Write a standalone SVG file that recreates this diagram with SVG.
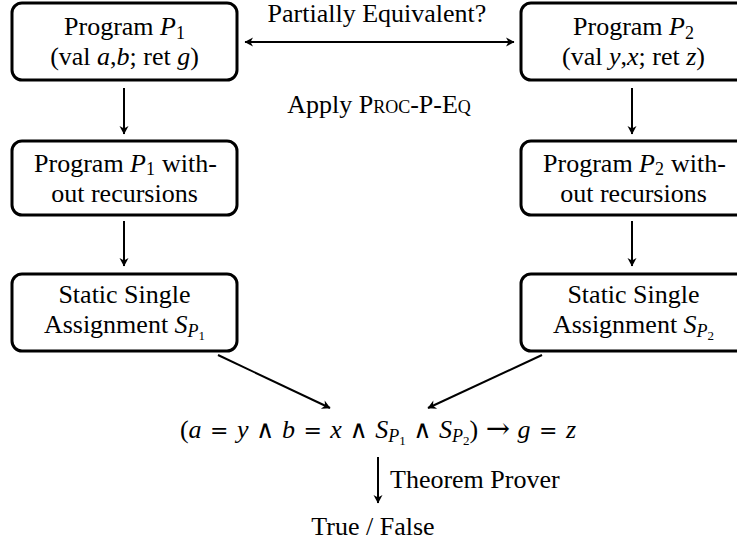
<svg xmlns="http://www.w3.org/2000/svg" width="737" height="548" viewBox="0 0 737 548">
<defs>
<style>
.box{fill:#fff;stroke:#000;stroke-width:3}
text{font-family:"Liberation Serif","Times New Roman",serif;font-size:26px;fill:#000}
.m{text-anchor:middle}
.e{text-anchor:end}
.i{font-style:italic}
.o{font-family:"DejaVu Serif",serif;font-size:22px}
.w{font-family:"DejaVu Serif",serif;font-size:25px}
.ar{font-family:"DejaVu Serif",serif;font-size:29px}
.s1{font-size:18px}
.s2{font-size:13px}
.c{stroke:#000;stroke-width:2;fill:none}
</style>
<marker id="ah" viewBox="-10 -6 12 12" refX="0" refY="0" markerWidth="12" markerHeight="12" markerUnits="userSpaceOnUse" orient="auto-start-reverse">
<path d="M0.5,0 L-8,-4.5 L-5.5,0 L-8,4.5 Z" fill="#000"/>
</marker>
</defs>
<rect width="737" height="548" fill="#fff"/>
<g id="connectors">
<line class="c" x1="245" y1="42" x2="514" y2="42" marker-start="url(#ah)" marker-end="url(#ah)"/>
<line class="c" x1="124" y1="88" x2="124" y2="134" marker-end="url(#ah)"/>
<line class="c" x1="632" y1="88" x2="632" y2="134" marker-end="url(#ah)"/>
<line class="c" x1="124" y1="221" x2="124" y2="266" marker-end="url(#ah)"/>
<line class="c" x1="632" y1="221" x2="632" y2="266" marker-end="url(#ah)"/>
<line class="c" x1="218" y1="355" x2="330" y2="408" marker-end="url(#ah)"/>
<line class="c" x1="542" y1="355" x2="428" y2="408" marker-end="url(#ah)"/>
<line class="c" x1="378" y1="457" x2="378" y2="503" marker-end="url(#ah)"/>
</g>
<g id="labels">
<text class="m" x="377" y="22">Partially Equivalent?</text>
<text class="m" x="379" y="113">Apply <tspan style="font-variant:small-caps">Proc-P-Eq</tspan></text>
<text x="390" y="488">Theorem Prover</text>
</g>
<g id="p1">
<rect class="box" x="12" y="3" width="225" height="77" rx="10"/>
<text class="m" x="124.5" y="35">Program <tspan class="i">P</tspan><tspan class="s1" dy="4">1</tspan></text>
<text class="m" x="124.5" y="65">(val <tspan class="i">a</tspan>,<tspan class="i">b</tspan>; ret <tspan class="i">g</tspan>)</text>
</g>
<g id="p2">
<rect class="box" x="521" y="3" width="225" height="77" rx="10"/>
<text class="m" x="633.5" y="35">Program <tspan class="i">P</tspan><tspan class="s1" dy="4">2</tspan></text>
<text class="m" x="633.5" y="65">(val <tspan class="i">y</tspan>,<tspan class="i">x</tspan>; ret <tspan class="i">z</tspan>)</text>
</g>
<g id="p1nr">
<rect class="box" x="12" y="141" width="225" height="74" rx="10"/>
<text class="e" x="155" y="172">Program <tspan class="i">P</tspan><tspan class="s1" dy="3">1</tspan></text>
<text x="162" y="172">with-</text>
<text class="m" x="124.5" y="202">out recursions</text>
</g>
<g id="p2nr">
<rect class="box" x="521" y="141" width="225" height="74" rx="10"/>
<text class="e" x="664" y="172">Program <tspan class="i">P</tspan><tspan class="s1" dy="3">2</tspan></text>
<text x="671" y="172">with-</text>
<text class="m" x="633.5" y="202">out recursions</text>
</g>
<g id="ssa1">
<rect class="box" x="12" y="274" width="225" height="77" rx="10"/>
<text class="m" x="124.5" y="303">Static Single</text>
<text class="m" x="124.5" y="333">Assignment <tspan class="i">S</tspan><tspan class="i s1" dy="4">P</tspan><tspan class="s2" dy="3">1</tspan></text>
</g>
<g id="ssa2">
<rect class="box" x="521" y="274" width="225" height="77" rx="10"/>
<text class="m" x="633.5" y="303">Static Single</text>
<text class="m" x="633.5" y="333">Assignment <tspan class="i">S</tspan><tspan class="i s1" dy="4">P</tspan><tspan class="s2" dy="3">2</tspan></text>
</g>
<g id="formula">
<text class="m" x="378" y="438">(<tspan class="i">a</tspan> <tspan class="o" dx="2">=</tspan> <tspan class="i" dx="2">y</tspan> <tspan class="w" dx="1">∧</tspan> <tspan class="i" dx="1">b</tspan> <tspan class="o" dx="2">=</tspan> <tspan class="i" dx="2">x</tspan> <tspan class="w" dx="1">∧</tspan> <tspan class="i" dx="1">S</tspan><tspan class="i s1" dy="4">P</tspan><tspan class="s2" dy="3">1</tspan><tspan dy="-7"> </tspan><tspan class="w" dx="1">∧</tspan> <tspan class="i" dx="1">S</tspan><tspan class="i s1" dy="4">P</tspan><tspan class="s2" dy="3">2</tspan><tspan dy="-7">) </tspan><tspan class="ar" dx="1">→</tspan> <tspan class="i" dx="1">g</tspan> <tspan class="o" dx="2">=</tspan> <tspan class="i" dx="2">z</tspan></text>
</g>
<g id="result">
<text class="m" x="373" y="535">True / False</text>
</g>
</svg>
